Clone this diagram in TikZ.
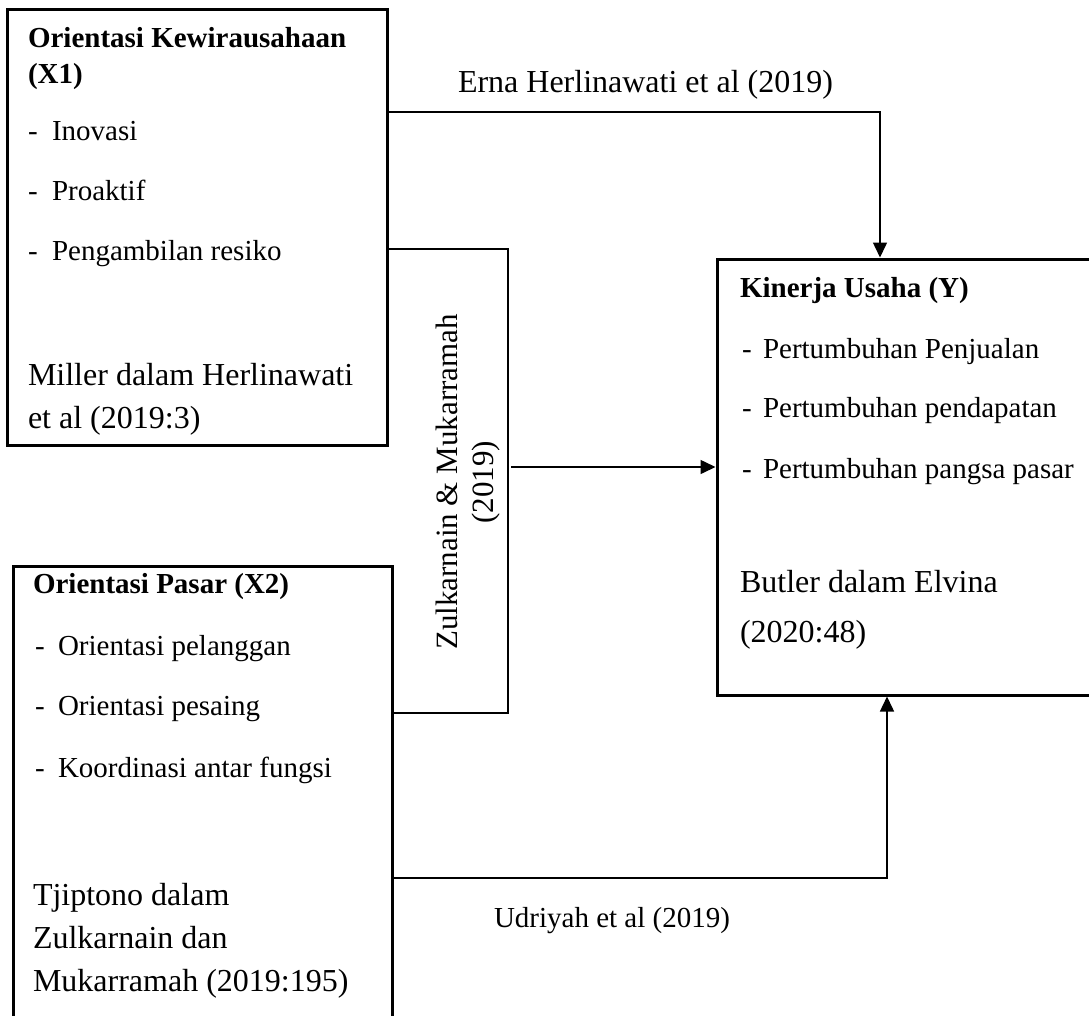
\documentclass[tikz,border=0pt]{standalone}
\usepackage{fontspec}
\setmainfont{Liberation Serif}
\usetikzlibrary{arrows.meta}
\begin{document}
\begin{tikzpicture}[x=1pt,y=-1pt,
  box/.style={draw, line width=3pt, rectangle, inner sep=0pt, outer sep=1.5pt, anchor=north west},
  conn/.style={line width=1.5pt},
  arr/.style={-{Triangle[length=15pt,width=14pt]}},
  txt/.style={anchor=base west, inner sep=0pt, outer sep=0pt},
  sm/.style={txt, font=\fontsize{29}{34}\selectfont},
  smb/.style={txt, font=\fontsize{29}{34}\selectfont\bfseries},
  lg/.style={txt, font=\fontsize{32}{38}\selectfont},
  rot/.style={rotate=90, align=center, inner sep=0pt, font=\fontsize{31}{36}\selectfont}]
\useasboundingbox (0,0) rectangle (1089,1015);
\clip (0,0) rectangle (1089,1015);

% boxes
\node[box, minimum width=380pt, minimum height=436pt] (x1) at (5.5,7.5) {};
\node[box, minimum width=379pt, minimum height=480pt] (x2) at (11.5,564.5) {};
\node[box, minimum width=400pt, minimum height=436pt] (ybox) at (715.5,257.5) {};

% X1 texts
\node[smb] (x1t1) at (28,47) {Orientasi Kewirausahaan};
\node[smb] (x1t2) at (28,83) {(X1)};
\node[sm] (x1d1) at (28,140) {-};
\node[sm] (x1i1) at (52,140) {Inovasi};
\node[sm] (x1d2) at (28,200) {-};
\node[sm] (x1i2) at (52,200) {Proaktif};
\node[sm] (x1d3) at (28,260) {-};
\node[sm] (x1i3) at (52,260) {Pengambilan resiko};
\node[lg] (x1r1) at (28,385) {Miller dalam Herlinawati};
\node[lg] (x1r2) at (28,428) {et al (2019:3)};

% X2 texts
\node[smb] (x2t1) at (33,593) {Orientasi Pasar (X2)};
\node[sm] (x2d1) at (35,655) {-};
\node[sm] (x2i1) at (58,655) {Orientasi pelanggan};
\node[sm] (x2d2) at (35,715) {-};
\node[sm] (x2i2) at (58,715) {Orientasi pesaing};
\node[sm] (x2d3) at (35,777) {-};
\node[sm] (x2i3) at (58,777) {Koordinasi antar fungsi};
\node[lg] (x2r1) at (33,905) {Tjiptono dalam};
\node[lg] (x2r2) at (33,948) {Zulkarnain dan};
\node[lg] (x2r3) at (33,991) {Mukarramah (2019:195)};

% Y texts
\node[smb] (yt1) at (740,297) {Kinerja Usaha (Y)};
\node[sm] (yd1) at (742,358) {-};
\node[sm] (yi1) at (763,358) {Pertumbuhan Penjualan};
\node[sm] (yd2) at (742,417) {-};
\node[sm] (yi2) at (763,417) {Pertumbuhan pendapatan};
\node[sm] (yd3) at (742,478) {-};
\node[sm] (yi3) at (763,478) {Pertumbuhan pangsa pasar};
\node[lg] (yr1) at (740,592) {Butler dalam Elvina};
\node[lg] (yr2) at (740,642) {(2020:48)};

% connector labels
\node[lg] (lErna) at (458,92) {Erna Herlinawati et al (2019)};
\node[rot] (lZul) at (468,482) {Zulkarnain \& Mukarramah\\(2019)};
\node[sm] (lUdr) at (494,927) {Udriyah et al (2019)};

% connector turning points
\coordinate (eTurn) at (880,112);
\coordinate (zTop) at (508,249);
\coordinate (zBot) at (508,713);
\coordinate (zMid) at (511,467);
\coordinate (uTurn) at (887,878);

% connectors
\draw[conn, arr] (x1.east |- eTurn) -- (eTurn) -- (ybox.north -| eTurn);
\draw[conn] (x1.east |- zTop) -- (zTop) -- (zBot) -- (x2.east |- zBot);
\draw[conn, arr] (zMid) -- (ybox.west |- zMid);
\draw[conn, arr] (x2.east |- uTurn) -- (uTurn) -- (ybox.south -| uTurn);
\end{tikzpicture}
\end{document}
